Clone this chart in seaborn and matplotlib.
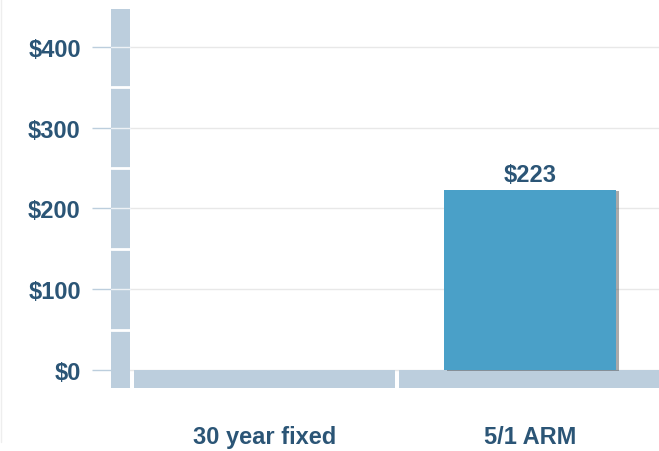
import pandas as pd
import seaborn as sns
import matplotlib.pyplot as plt
import matplotlib.patheffects as pe
from matplotlib.lines import Line2D

# === Daten ===
categories = ["30 year fixed", "5/1 ARM"]
payments = [0, 223]
bar_labels = ["", "$223"]
y_ticks = [0, 100, 200, 300, 400]
y_tick_labels = ["$0", "$100", "$200", "$300", "$400"]

# === Farben ===
bar_blue = "#4AA0C8"
frame_blue = "#BCCEDD"
text_blue = "#2B5576"

sns.set_theme(style="white")
plt.rcParams["font.family"] = ["Liberation Sans", "DejaVu Sans"]

df = pd.DataFrame({"plan": categories, "payment": payments})

fig = plt.figure(figsize=(6.59, 4.52), dpi=100)
ax = fig.add_axes([111 / 659, 63 / 452, 548 / 659, 379 / 452])

sns.barplot(data=df, x="plan", y="payment", color=bar_blue, width=0.65,
            saturation=1, linewidth=0, ax=ax, zorder=3)

x_left, x_right = -0.581, 1.487
y_bottom, y_top = -22.3, 447
ax.set_xlim(x_left, x_right)
ax.set_ylim(y_bottom, y_top)

# Schatten rechts am Balken
for patch in ax.containers[0]:
    if patch.get_height() > 0:
        patch.set_path_effects([
            pe.SimplePatchShadow(offset=(2, -1), shadow_rgbFace="#444444", alpha=0.45),
            pe.Normal(),
        ])

# Grundleiste unter den Kategorien
ax.bar(range(len(categories)), y_bottom, width=0.985, color=frame_blue,
       linewidth=0, zorder=2)

# senkrechte Leiste links
bar_edge = -0.509
ax.axvspan(x_left, bar_edge, color=frame_blue, linewidth=0, zorder=2)
for y in [50, 150, 250, 350]:
    ax.plot([x_left, bar_edge], [y, y], color="white", lw=2, zorder=2.5)
for y in y_ticks[1:]:
    ax.plot([x_left, bar_edge], [y, y], color="#EEF2F6", lw=1, zorder=2.5)

# Gitter
ax.grid(axis="y", color="#E8E8E8", lw=1)
ax.set_axisbelow(True)
sns.despine(ax=ax, left=True, bottom=True)

ax.set_yticks(y_ticks, y_tick_labels)
ax.tick_params(axis="y", left=True, length=13.7, width=1, color=frame_blue,
               pad=8, labelsize=17, labelcolor=text_blue)
ax.tick_params(axis="x", length=0, pad=27, labelsize=17, labelcolor=text_blue)
for lbl in ax.get_yticklabels() + ax.get_xticklabels():
    lbl.set_fontweight("bold")
ax.set_xlabel("")
ax.set_ylabel("")

ax.bar_label(ax.containers[0], labels=bar_labels, padding=3, fontsize=17,
             fontweight="bold", color=text_blue)

fig.add_artist(Line2D([0.002, 0.002], [0.02, 1], color="#EEEEEE", lw=1))

plt.savefig("out.png", dpi=100)
